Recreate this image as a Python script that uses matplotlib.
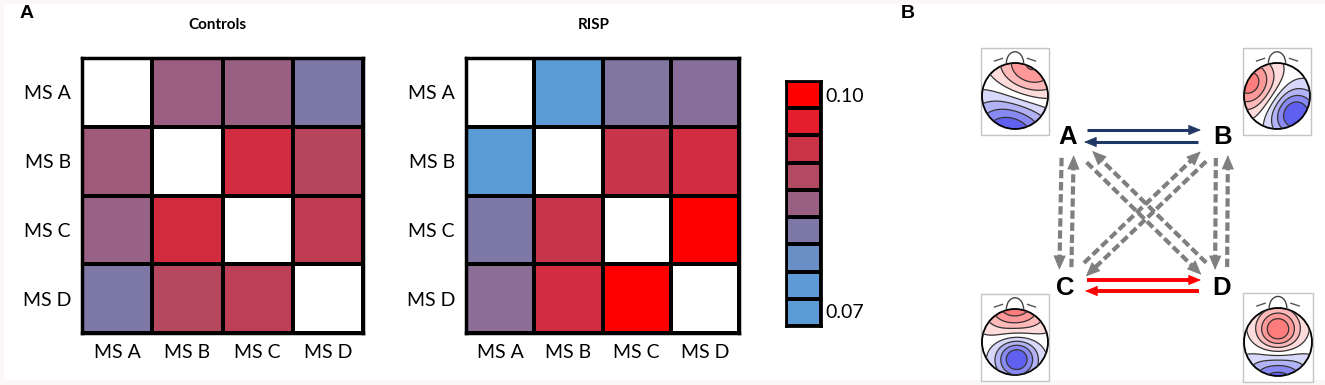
import numpy as np
import matplotlib
matplotlib.use("Agg")
import matplotlib.pyplot as plt
from matplotlib.colors import LinearSegmentedColormap
from matplotlib.patches import Circle, Rectangle, Arc

W, H = 1325, 385

# --- panel A data: transition probabilities between microstates ---
STATES = ["MS A", "MS B", "MS C", "MS D"]
CONTROLS = [
    [np.nan, 0.0853, 0.0850, 0.0813],
    [0.0860, np.nan, 0.0937, 0.0895],
    [0.0847, 0.0938, np.nan, 0.0910],
    [0.0813, 0.0893, 0.0904, np.nan],
]
RISP = [
    [np.nan, 0.0700, 0.0817, 0.0826],
    [0.0702, np.nan, 0.0922, 0.0937],
    [0.0813, 0.0922, np.nan, 0.1000],
    [0.0829, 0.0937, 0.1000, np.nan],
]
VMIN, VMAX = 0.07, 0.10
CBAR_COLOURS = ["#5b9bd5", "#5e9ad6", "#6a8ec6", "#7e78a6", "#9a6083",
                "#b24a63", "#c83348", "#e41e2c", "#ff0000"]
CBAR_LABELS = ["0.07", "0.10"]

# --- panel B: nodes, arrows and scalp maps (pixel coords, y down) ---
NODES = {"A": (1068, 137), "B": (1223, 137), "C": (1065, 288), "D": (1222, 288)}
# (from, to, colour, dashed, side offset, start gap, end gap)
ARROWS = [
    ("A", "B", "#203864", False, -7, 19, 22),
    ("B", "A", "#203864", False, -5, 25, 16),
    ("C", "D", "#ff0000", False, -8, 22, 21),
    ("D", "C", "#ff0000", False, -3, 23, 20),
    ("A", "C", "#7f7f7f", True, 6, 21, 18),
    ("C", "A", "#7f7f7f", True, 6, 21, 18),
    ("B", "D", "#7f7f7f", True, 7, 21, 18),
    ("D", "B", "#7f7f7f", True, 5, 21, 18),
    ("A", "D", "#7f7f7f", True, 5, 31, 24),
    ("D", "A", "#7f7f7f", True, 7, 29, 27),
    ("B", "C", "#7f7f7f", True, -6, 29, 23),
    ("C", "B", "#7f7f7f", True, -5, 31, 26),
]
TOPO_CENTRES = {"A": (1015, 96, 33), "B": (1277, 96, 33),
                "C": (1015, 342, 33), "D": (1278, 342, 34)}
# poles: (x, y, amplitude, width) in head units, y up
TOPO_POLES = {
    "A": [(0.5, 0.9, 1.0, 0.75), (-0.2, -1.3, -1.3, 0.9)],
    "B": [(-0.85, 0.4, 0.9, 0.6), (0.55, -0.55, -1.0, 0.55)],
    "C": [(0.0, 1.3, 1.0, 0.7), (0.05, -0.5, -1.0, 0.45)],
    "D": [(0.0, 0.35, 1.0, 0.45), (0.0, -1.4, -1.0, 0.7)],
}

CMAP = LinearSegmentedColormap.from_list("tp", CBAR_COLOURS)
CMAP.set_bad("white")
TOPO_CMAP = LinearSegmentedColormap.from_list(
    "topo", ["#4c4cee", "#a8a8f6", "#ffffff", "#ffb0b0", "#ff6e6e"])

plt.rcParams["font.family"] = ["Lato", "DejaVu Sans"]

fig = plt.figure(figsize=(W / 100, H / 100), dpi=100, facecolor="#fbf7f7")
ov = fig.add_axes([0, 0, 1, 1])
ov.set_xlim(0, W)
ov.set_ylim(H, 0)
ov.axis("off")
ov.add_patch(Rectangle((4, 4), W - 4, 376, facecolor="white", edgecolor="none", zorder=0))


def px_axes(x0, y0, x1, y1):
    return fig.add_axes([x0 / W, 1 - y1 / H, (x1 - x0) / W, (y1 - y0) / H])


def heatmap(ax, values, title, title_x):
    data = np.ma.masked_invalid(np.array(values))
    ax.pcolormesh(data, cmap=CMAP, vmin=VMIN, vmax=VMAX,
                  edgecolors="black", linewidth=1.5)
    ax.set_xlim(0, 4)
    ax.set_ylim(4, 0)
    ticks = np.arange(len(STATES)) + 0.5
    ax.set_xticks(ticks, STATES)
    ax.set_yticks(ticks, STATES)
    ax.tick_params(length=0, labelsize=14, pad=8)
    for s in ax.spines.values():
        s.set_linewidth(2.5)
    ov.text(title_x, 25, title, fontsize=11, fontweight="bold",
            ha="center", va="center")


heatmap(px_axes(82, 58, 363, 333), CONTROLS, "Controls", 217)
heatmap(px_axes(466, 58, 739, 333), RISP, "RISP", 594)

# discrete colour bar
cax = px_axes(786, 81, 821, 326)
levels = np.linspace(VMIN, VMAX, len(CBAR_COLOURS))
cax.pcolormesh(levels[:, None], cmap=CMAP, vmin=VMIN, vmax=VMAX,
               edgecolors="black", linewidth=1.5)
cax.set_xticks([])
cax.set_yticks([])
for s in cax.spines.values():
    s.set_linewidth(2)
ov.text(825, 312, CBAR_LABELS[0], fontsize=14, ha="left", va="center")
ov.text(825, 96, CBAR_LABELS[1], fontsize=14, ha="left", va="center")

# panel letters
ov.text(27, 14, "A", fontsize=14, fontweight="bold", ha="center", va="center",
        family="Liberation Sans")
ov.text(908, 14, "B", fontsize=14, fontweight="bold", ha="center", va="center",
        family="Liberation Sans")

# --- panel B ---
for name, (x, y) in NODES.items():
    ov.text(x, y, name, fontsize=18.5, fontweight="bold", ha="center",
            va="center", family="Liberation Sans")

for src, dst, colour, dashed, off, g0, g1 in ARROWS:
    p0 = np.array(NODES[src], float)
    p1 = np.array(NODES[dst], float)
    u = (p1 - p0) / np.hypot(*(p1 - p0))
    n = np.array([-u[1], u[0]])
    start = p0 + u * g0 + n * off
    tip = p1 - u * g1 + n * off
    if dashed:
        hl, hw, lw = 0.93, 0.4, 3.0
    else:
        hl, hw, lw = 0.8, 0.33, 2.2 if colour != "#ff0000" else 2.8
    base = tip - u * hl * 13.9
    line, = ov.plot([start[0], base[0]], [start[1], base[1]], color=colour,
                    lw=lw, solid_capstyle="butt", dash_capstyle="butt")
    if dashed:
        line.set_dashes((2.0, 0.9))
    ov.annotate("", xy=tip, xytext=base,
                arrowprops=dict(arrowstyle=f"-|>,head_length={hl},head_width={hw}",
                                color=colour, lw=0.6, shrinkA=0, shrinkB=0))

g = np.linspace(-1, 1, 161)
gx, gy = np.meshgrid(g, g)
inside = gx ** 2 + gy ** 2 <= 1
for name, (cx, cy, r) in TOPO_CENTRES.items():
    ov.add_patch(Rectangle((cx - 1.03 * r, cy - 1.45 * r), 2.06 * r, 2.62 * r,
                           facecolor="white", edgecolor="#c4c4c4", lw=1.0))
    z = np.zeros_like(gx)
    for px, py, amp, sig in TOPO_POLES[name]:
        z += amp * np.exp(-((gx - px) ** 2 + (gy - py) ** 2) / (2 * sig ** 2))
    z = z / np.abs(z[inside]).max()
    X = cx + r * gx
    Y = cy - r * gy
    lv = np.linspace(-1, 1, 10)
    head = Circle((cx, cy), r, transform=ov.transData)
    cf = ov.contourf(X, Y, z, levels=lv, cmap=TOPO_CMAP, vmin=-1, vmax=1)
    cl = ov.contour(X, Y, z, levels=lv[1:-1], colors="#333333",
                    linewidths=0.9, linestyles="solid")
    cf.set_clip_path(head)
    cl.set_clip_path(head)
    ov.add_patch(Circle((cx, cy), r, facecolor="none", edgecolor="black", lw=1.3))
    ov.add_patch(Arc((cx, cy - r), 0.52 * r, 0.68 * r, theta1=180, theta2=360,
                     color="#444444", lw=1.0))
    for sx in (-1, 1):
        ov.plot([cx + sx * 0.62 * r, cx + sx * 0.38 * r],
                [cy - 1.06 * r, cy - 1.14 * r], color="#555555", lw=1.0)

fig.savefig("out.png", dpi=100, facecolor=fig.get_facecolor())
